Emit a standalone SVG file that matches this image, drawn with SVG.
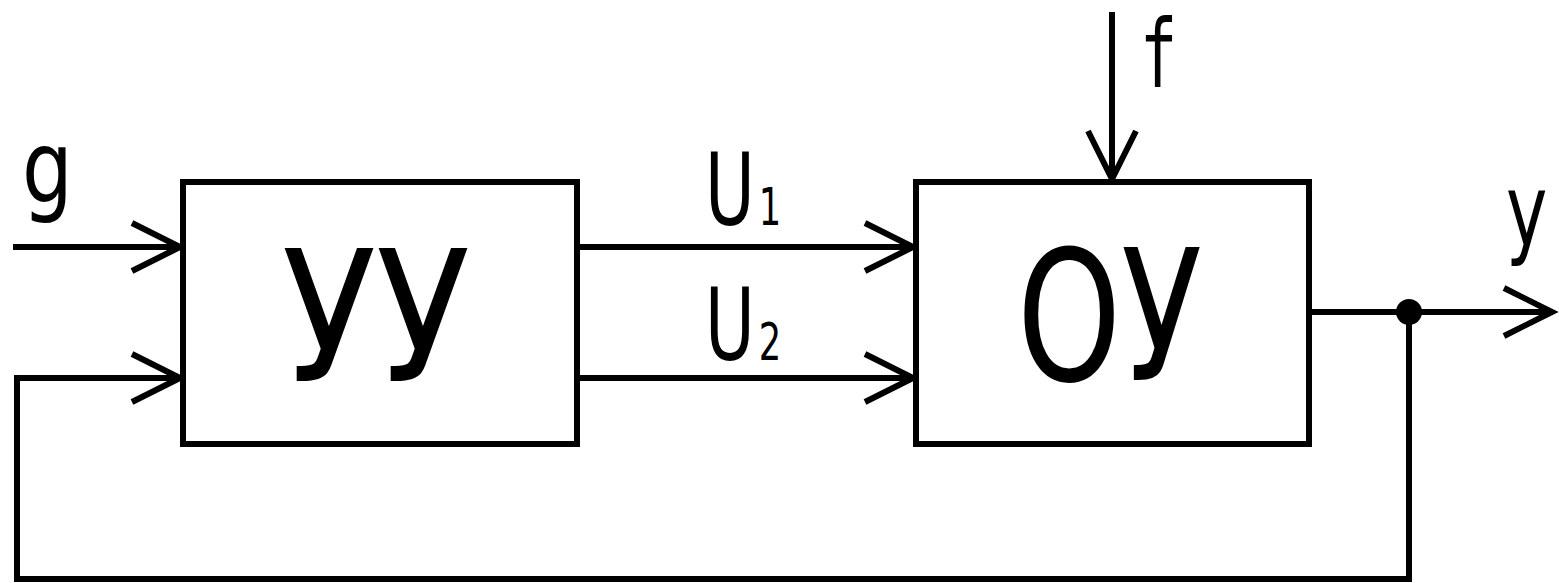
<svg xmlns="http://www.w3.org/2000/svg" width="1559" height="583" viewBox="0 0 1559 583">
<style>
.box{fill:#fff;stroke:#000;stroke-width:6}
.ln{fill:none;stroke:#000;stroke-width:6;stroke-linejoin:miter}
.arr{marker-end:url(#ah)}
.big{font-family:"DejaVu Sans","Liberation Sans",sans-serif;font-size:181px;fill:#000}
.lbl{font-family:"DejaVu Sans","Liberation Sans",sans-serif;font-size:100px;fill:#000}
.mono{font-family:"DejaVu Sans Mono","Liberation Mono",monospace;font-size:95px;fill:#000}
</style>
<defs>
<marker id="ah" markerUnits="userSpaceOnUse" viewBox="-60 -30 66 60" refX="0" refY="0" markerWidth="66" markerHeight="60" orient="auto" overflow="visible">
<path d="M-48,-24 L0,0 L-48,24" fill="none" stroke="#000" stroke-width="6"/>
</marker>
</defs>
<rect width="1559" height="583" fill="#fff"/>
<g id="connectors">
<path class="ln arr" d="M13,247 H180"/>
<path class="ln arr" d="M577,247 H913"/>
<path class="ln arr" d="M577,378 H913"/>
<path class="ln arr" d="M1112,12 V179"/>
<path class="ln arr" d="M1309,312 H1552"/>
<path class="ln arr" d="M1409,312 V579 H17 V378 H180"/>
<circle cx="1409" cy="312" r="13" fill="#000"/>
</g>
<g id="node-uu">
<rect class="box" x="183" y="182" width="394" height="262"/>
<text class="big" x="282" y="381" textLength="188" lengthAdjust="spacingAndGlyphs">УУ</text>
</g>
<g id="node-oy">
<rect class="box" x="916" y="182" width="393" height="262"/>
<text class="big" x="1017" y="380" textLength="185" lengthAdjust="spacingAndGlyphs">ОУ</text>
</g>
<g id="labels">
<text class="lbl" transform="translate(22,202) scale(0.8,1)">g</text>
<text class="mono" transform="translate(1140,87) scale(0.65,1)">f</text>
<text class="lbl" transform="translate(1506,245) scale(0.7,1)">y</text>
<text class="lbl" transform="translate(705,225) scale(0.68,1)">U<tspan font-size="52" dx="6">1</tspan></text>
<text class="lbl" transform="translate(705,360) scale(0.68,1)">U<tspan font-size="52" dx="6">2</tspan></text>
</g>
</svg>
